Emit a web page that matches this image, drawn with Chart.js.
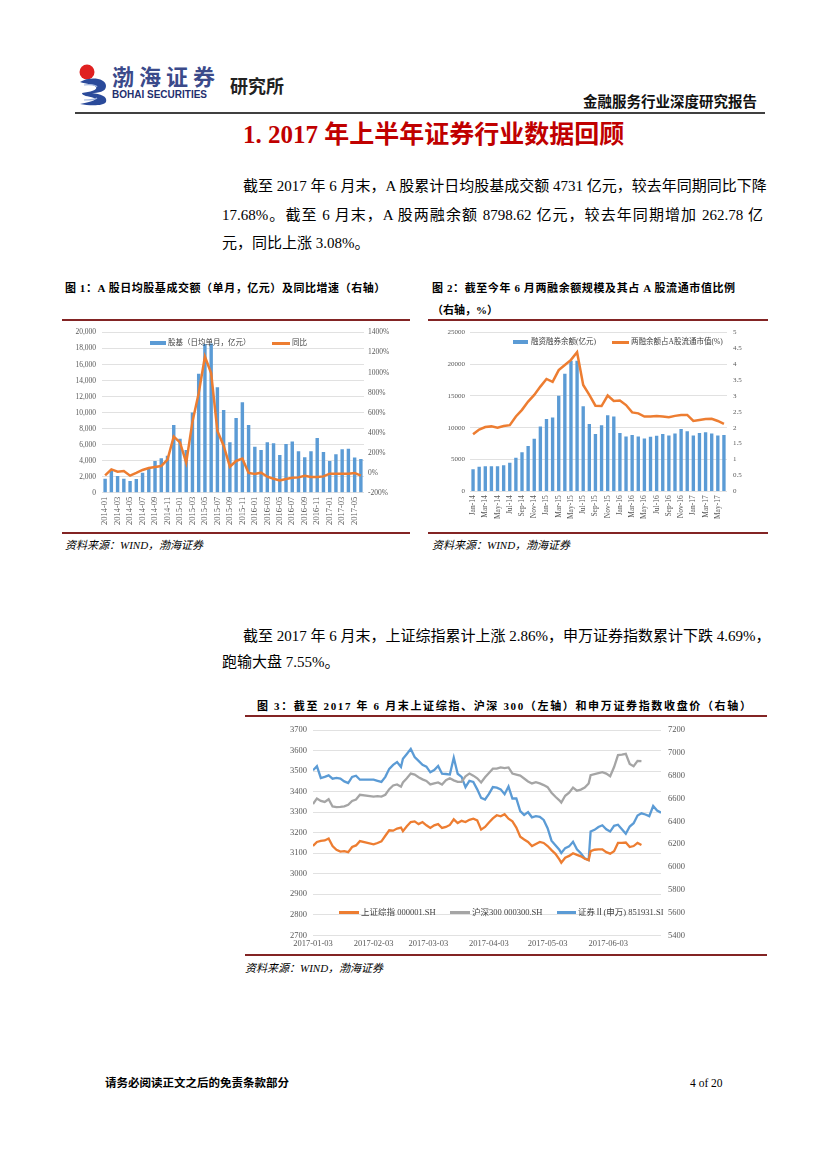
<!DOCTYPE html>
<html lang="zh-CN">
<head>
<meta charset="utf-8">
<title>金融服务行业深度研究报告</title>
<script src="https://cdn.jsdelivr.net/npm/chart.js@4.4.0/dist/chart.umd.min.js"></script>
<style>
  html, body { margin: 0; padding: 0; background: #fff; }
  body { width: 827px; height: 1169px; position: relative; overflow: hidden;
         font-family: "Liberation Serif", "Noto Sans CJK SC", serif; color: #000; }
  .abs { position: absolute; white-space: nowrap; }
  .just { text-align: justify; text-align-last: justify; }
  .para { font-size: 15px; line-height: 20px; }
  .cap { font-size: 11px; font-weight: bold; line-height: 14px; }
  .src { font-size: 11px; font-style: italic; line-height: 14px; }
  .rule { position: absolute; background: #832424; }
  canvas { position: absolute; }
  .lg { position: absolute; font-size: 7.5px; line-height: 10px; color: #404040; white-space: nowrap; }
  .lg span.t { position: absolute; top: 0; }
  .lg span.box { position: absolute; top: 3px; height: 4px; background: #5B9BD5; }
  .lg span.ln { position: absolute; top: 4px; height: 2.5px; }
</style>
</head>
<body>

<!-- header -->
<svg class="abs" style="left:76px;top:62px" width="36" height="44" viewBox="0 0 36 44">
  <circle cx="11" cy="10" r="7.5" fill="#E02020"/>
  <path d="M4 20 C14 14 30 16 30 24 C30 30 22 31 16 31 C24 32 32 34 30 40 C28 44 14 44 4 42 C14 40 22 38 18 36 C12 34 6 34 6 31 C14 30 22 28 20 25 C18 22 10 22 4 20 Z" fill="#2A4A9A"/>
  <path d="M8 23 C14 22 20 23 21 25" stroke="#9FB3DD" stroke-width="1.2" fill="none"/>
  <path d="M8 38 C14 38 20 37 21 36" stroke="#9FB3DD" stroke-width="1.2" fill="none"/>
</svg>
<div class="abs" style="left:112px;top:61px;font-size:22px;line-height:28px;font-weight:bold;color:#3B4A8A;letter-spacing:5px;font-family:'Noto Sans CJK SC';">渤海证券</div>
<div class="abs" style="left:112px;top:89px;font-size:10px;line-height:12px;font-weight:bold;color:#1F2F6F;font-family:'Liberation Sans';">BOHAI SECURITIES</div>
<div class="abs" style="left:230px;top:74px;font-size:18px;line-height:22px;font-weight:bold;color:#222;font-family:'Noto Sans CJK SC';">研究所</div>
<div class="abs" style="left:583px;top:92px;font-size:14.5px;line-height:18px;font-weight:bold;color:#111;font-family:'Noto Sans CJK SC';">金融服务行业深度研究报告</div>
<div class="abs" style="left:75px;top:112px;width:690px;height:2px;background:#404040;"></div>

<!-- section title -->
<div class="abs" style="left:243px;top:120px;font-size:25px;line-height:30px;font-weight:bold;color:#C00000;">1. 2017 年上半年证券行业数据回顾</div>

<div class="abs para just" style="left:243px;top:176px;width:520px;">截至 2017 年 6 月末，A 股累计日均股基成交额 4731 亿元，较去年同期同比下降</div>
<div class="abs para just" style="left:222px;top:205px;width:541px;">17.68%。截至 6 月末，A 股两融余额 8798.62 亿元，较去年同期增加 262.78 亿</div>
<div class="abs para" style="left:222px;top:233px;">元，同比上涨 3.08%。</div>

<!-- figure 1 & 2 captions -->
<div class="abs cap" style="left:65px;top:281px;letter-spacing:0.55px;">图 1：A 股日均股基成交额（单月，亿元）及同比增速（右轴）</div>
<div class="abs cap" style="left:432px;top:281px;letter-spacing:0.6px;">图 2：截至今年 6 月两融余额规模及其占 A 股流通市值比例</div>
<div class="abs cap" style="left:432px;top:303px;">（右轴，%）</div>
<div class="rule" style="left:62px;top:319px;width:348px;height:2px;"></div>
<div class="rule" style="left:428px;top:319px;width:340px;height:2px;"></div>

<canvas id="c1" width="348" height="212" style="left:62px;top:322px;width:348px;height:212px;"></canvas>
<canvas id="c2" width="340" height="212" style="left:428px;top:322px;width:340px;height:212px;"></canvas>

<div class="lg" style="left:0;top:338px;">
  <span class="box" style="left:150px;width:16px;"></span>
  <span class="t" style="left:168px;">股基（日均单月，亿元）</span>
  <span class="ln" style="left:272px;width:18px;background:#ED7D31;"></span>
  <span class="t" style="left:292px;">同比</span>
</div>
<div class="lg" style="left:0;top:337px;">
  <span class="box" style="left:513px;width:15px;"></span>
  <span class="t" style="left:531px;">融资融券余额(亿元)</span>
  <span class="ln" style="left:612px;width:17px;background:#ED7D31;"></span>
  <span class="t" style="left:631px;">两融余额占A股流通市值(%)</span>
</div>

<div class="rule" style="left:62px;top:532px;width:348px;height:1.5px;"></div>
<div class="rule" style="left:428px;top:532px;width:340px;height:1.5px;"></div>
<div class="abs src" style="left:65px;top:538px;">资料来源：WIND，渤海证券</div>
<div class="abs src" style="left:432px;top:538px;">资料来源：WIND，渤海证券</div>

<!-- second paragraph -->
<div class="abs para just" style="left:243px;top:626px;width:520px;">截至 2017 年 6 月末，上证综指累计上涨 2.86%，申万证券指数累计下跌 4.69%，</div>
<div class="abs para" style="left:222px;top:652px;">跑输大盘 7.55%。</div>

<!-- figure 3 -->
<div class="abs cap" style="left:257px;top:699px;letter-spacing:1.65px;">图 3：截至 2017 年 6 月末上证综指、沪深 300（左轴）和申万证券指数收盘价（右轴）</div>
<div class="rule" style="left:245px;top:715px;width:522px;height:2px;"></div>
<canvas id="c3" width="522" height="236" style="left:245px;top:718px;width:522px;height:236px;"></canvas>
<div class="lg" style="left:0;top:907px;font-size:8.5px;line-height:11px;">
  <span class="ln" style="left:339px;width:20px;background:#ED7D31;"></span>
  <span class="t" style="left:361px;">上证综指 000001.SH</span>
  <span class="ln" style="left:450px;width:20px;background:#A5A5A5;"></span>
  <span class="t" style="left:472px;">沪深300 000300.SH</span>
  <span class="ln" style="left:557px;width:19px;background:#5B9BD5;"></span>
  <span class="t" style="left:578px;">证券Ⅱ(申万) 851931.SI</span>
</div>
<div class="rule" style="left:245px;top:954px;width:522px;height:1.5px;"></div>
<div class="abs src" style="left:245px;top:961px;">资料来源：WIND，渤海证券</div>

<!-- footer -->
<div class="abs" style="left:105px;top:1076px;font-size:11.5px;line-height:14px;font-weight:bold;">请务必阅读正文之后的免责条款部分</div>
<div class="abs" style="left:690px;top:1076px;font-size:11.5px;line-height:14px;">4 of 20</div>

<script>
// ---- 图1：股基日均成交额（亿元）与同比（%）
const months1 = [
  '2014-01','2014-02','2014-03','2014-04','2014-05','2014-06','2014-07','2014-08','2014-09','2014-10','2014-11','2014-12',
  '2015-01','2015-02','2015-03','2015-04','2015-05','2015-06','2015-07','2015-08','2015-09','2015-10','2015-11','2015-12',
  '2016-01','2016-02','2016-03','2016-04','2016-05','2016-06','2016-07','2016-08','2016-09','2016-10','2016-11','2016-12',
  '2017-01','2017-02','2017-03','2017-04','2017-05','2017-06'
];
const turnover = [
  1750, 2750, 2080, 1750, 1460, 1710, 2500, 3040, 3960, 4290, 4600, 8460,
  6750, 5340, 10000, 14840, 18550, 18640, 13170, 10340, 6300, 9340, 11300, 8460,
  5750, 5340, 6300, 6170, 4710, 6090, 6380, 5170, 4420, 5170, 6840, 5090,
  3960, 4800, 5420, 5500, 4380, 4210
];
const yoyGrowth = [
  -27, 33, 10, 17, -30, -3, 27, 47, 57, 67, 130, 360,
  303, 100, 510, 793, 1160, 993, 417, 270, 60, 117, 140, -3,
  -13, 0, -40, -60, -77, -63, -50, -47, -30, -43, -43, -37,
  -10, -10, -10, -10, -3, -30
];

// ---- 图2：两融余额（亿元）及占A股流通市值比例（%）
const months2 = [
  'Jan-14','Feb-14','Mar-14','Apr-14','May-14','Jun-14','Jul-14','Aug-14','Sep-14','Oct-14','Nov-14','Dec-14',
  'Jan-15','Feb-15','Mar-15','Apr-15','May-15','Jun-15','Jul-15','Aug-15','Sep-15','Oct-15','Nov-15','Dec-15',
  'Jan-16','Feb-16','Mar-16','Apr-16','May-16','Jun-16','Jul-16','Aug-16','Sep-16','Oct-16','Nov-16','Dec-16',
  'Jan-17','Feb-17','Mar-17','Apr-17','May-17','Jun-17'
];
const marginBalance = [
  3470, 3840, 3950, 3950, 3950, 4100, 4470, 5260, 6150, 7100, 8260, 10200,
  11370, 11580, 15000, 18470, 20530, 20530, 13370, 10580, 9000, 10370, 11950, 11740,
  9150, 8630, 8840, 8630, 8310, 8580, 8730, 9000, 8780, 9100, 9780, 9420,
  8780, 9150, 9260, 9100, 8780, 8840
];
const marginRatio = [
  1.79, 1.94, 2.02, 2.04, 2.00, 2.05, 2.08, 2.35, 2.56, 2.82, 3.03, 3.29,
  3.53, 3.44, 3.81, 3.97, 4.13, 4.37, 3.34, 3.03, 2.69, 2.68, 3.01, 2.84,
  2.85, 2.71, 2.48, 2.45, 2.35, 2.35, 2.37, 2.35, 2.33, 2.37, 2.40, 2.40,
  2.21, 2.24, 2.27, 2.28, 2.21, 2.12
];

// ---- 图3：上证综指、沪深300（左轴）和申万证券指数（右轴）
const dates3 = [
  '2017-01-03','2017-01-05','2017-01-07','2017-01-09','2017-01-11','2017-01-13','2017-01-15','2017-01-17','2017-01-19','2017-01-21','2017-01-23','2017-01-25','2017-01-27',
  '2017-02-03','2017-02-05','2017-02-07','2017-02-09','2017-02-11','2017-02-13','2017-02-15','2017-02-17','2017-02-18','2017-02-20','2017-02-22','2017-02-24','2017-02-26','2017-02-28',
  '2017-03-02','2017-03-04','2017-03-06','2017-03-08','2017-03-10','2017-03-12','2017-03-14','2017-03-16','2017-03-18','2017-03-20','2017-03-22','2017-03-24','2017-03-26','2017-03-28','2017-03-30',
  '2017-04-01','2017-04-03','2017-04-05','2017-04-07','2017-04-09','2017-04-11','2017-04-13','2017-04-15','2017-04-17','2017-04-19','2017-04-21','2017-04-23','2017-04-25','2017-04-27','2017-04-29',
  '2017-05-01','2017-05-03','2017-05-05','2017-05-07','2017-05-09','2017-05-10','2017-05-12','2017-05-14','2017-05-16','2017-05-18','2017-05-20','2017-05-22','2017-05-24',
  '2017-05-25','2017-05-27','2017-05-29','2017-05-31','2017-06-02','2017-06-04','2017-06-06','2017-06-08','2017-06-10','2017-06-12','2017-06-14','2017-06-16','2017-06-18','2017-06-20',
  '2017-06-22','2017-06-24','2017-06-26','2017-06-28','2017-06-30'
];
const shComposite = [
  3135, 3155, 3160, 3162, 3172, 3135, 3117, 3108, 3110, 3105, 3130, 3138, 3159,
  3143, 3150, 3158, 3185, 3212, 3210, 3220, 3225, 3207, 3231, 3252, 3255, 3242, 3252,
  3236, 3223, 3236, 3242, 3223, 3228, 3238, 3265, 3247, 3258, 3252, 3263, 3268, 3260, 3215,
  3228, 3250, 3270, 3285, 3280, 3290, 3268, 3255, 3225, 3180, 3167, 3155, 3135, 3145, 3155,
  3150, 3135, 3115, 3097, 3070, 3054, 3078, 3087, 3100, 3092, 3085, 3073, 3066,
  3110, 3117, 3119, 3119, 3105, 3098, 3110, 3150, 3150, 3152, 3130, 3135, 3150, 3140,
  null, null, null, null, null
];
const hs300 = [
  3340, 3367, 3355, 3350, 3363, 3328, 3325, 3326, 3328, 3336, 3355, 3362, 3385,
  3376, 3378, 3376, 3385, 3412, 3430, 3435, 3424, 3445, 3465, 3488, 3483, 3470, 3460,
  3452, 3435, 3440, 3445, 3435, 3456, 3465, 3455, 3448, 3448, 3475, 3488, 3478, 3465, 3445,
  3470, 3491, 3512, 3512, 3518, 3515, 3518, 3488, 3483, 3478, 3464, 3450, 3440, 3446, 3440,
  3432, 3422, 3395, 3375, 3358, 3347, 3380, 3395, 3420, 3405, 3410, 3420, 3440,
  3480, 3485, 3490, 3495, 3488, 3475, 3520, 3578, 3580, 3584, 3535, 3524, 3550, 3549,
  null, null, null, null, null
];
const swSecurities = [
  6847, 6884, 6780, 6790, 6803, 6774, 6780, 6775, 6750, 6735, 6789, 6800, 6765,
  6765, 6755, 6745, 6790, 6860, 6895, 6919, 6876, 6948, 6991, 7035, 6963, 6930, 6895,
  6880, 6830, 6850, 6885, 6817, 6815, 6810, 6957, 6817, 6790, 6700, 6755, 6745, 6680, 6605,
  6591, 6640, 6700, 6695, 6680, 6638, 6705, 6600, 6600, 6490, 6456, 6480, 6435, 6445, 6440,
  6412, 6340, 6230, 6190, 6150, 6122, 6165, 6180, 6220, 6155, 6120, 6075, 6060,
  6310, 6325, 6350, 6365, 6330, 6310, 6360, 6370, 6330, 6290, 6354, 6383, 6450, 6470,
  6460, 6445, 6534, 6495, 6476
];
const tickDates3 = ['2017-01-03','2017-02-03','2017-03-03','2017-04-03','2017-05-03','2017-06-03'];

Chart.defaults.font.family = '"Liberation Serif", "Noto Sans CJK SC", serif';
Chart.defaults.color = '#595959';

const BLUE = '#5B9BD5', ORANGE = '#ED7D31', GREY = '#A5A5A5', GRID = '#D9D9D9';

function dayOf(s) {
  const p = s.split('-').map(Number);
  return (Date.UTC(p[0], p[1] - 1, p[2]) - Date.UTC(2017, 0, 3)) / 86400000;
}

// chart 1
new Chart(document.getElementById('c1'), {
  data: {
    labels: months1,
    datasets: [
      { type: 'line', label: '同比', data: yoyGrowth, yAxisID: 'yr',
        borderColor: ORANGE, borderWidth: 2.5, pointRadius: 0, tension: 0, order: 0 },
      { type: 'bar', label: '股基（日均单月，亿元）', data: turnover, yAxisID: 'yl',
        backgroundColor: BLUE, barPercentage: 0.55, categoryPercentage: 1, order: 1 }
    ]
  },
  options: {
    responsive: false, animation: false,
    layout: { padding: { top: 10 } },
    plugins: { legend: { display: false }, tooltip: { enabled: false } },
    scales: {
      x: {
        grid: { display: false, drawTicks: false }, border: { display: false },
        ticks: { autoSkip: false, minRotation: 90, maxRotation: 90, padding: 4, font: { size: 8.5 },
                 callback: (v, i) => (i % 2 === 0 ? months1[i] : '') },
        afterFit: s => { s.height = 41.3; }
      },
      yl: {
        position: 'left', min: 0, max: 20000,
        ticks: { stepSize: 2000, padding: 6, font: { size: 7.5 }, callback: v => v.toLocaleString('en-US') },
        grid: { color: GRID, lineWidth: 0.8, drawTicks: false }, border: { display: false },
        afterFit: s => { s.width = 40; }
      },
      yr: {
        position: 'right', min: -200, max: 1400,
        ticks: { stepSize: 200, padding: 4, font: { size: 7.5 }, callback: v => v + '%' },
        grid: { display: false, drawTicks: false }, border: { display: false },
        afterFit: s => { s.width = 46; }
      }
    }
  }
});

// chart 2
new Chart(document.getElementById('c2'), {
  data: {
    labels: months2,
    datasets: [
      { type: 'line', label: '两融余额占A股流通市值(%)', data: marginRatio, yAxisID: 'yr',
        borderColor: ORANGE, borderWidth: 2.5, pointRadius: 0, tension: 0, order: 0 },
      { type: 'bar', label: '融资融券余额(亿元)', data: marginBalance, yAxisID: 'yl',
        backgroundColor: BLUE, barPercentage: 0.55, categoryPercentage: 1, order: 1 }
    ]
  },
  options: {
    responsive: false, animation: false,
    layout: { padding: { top: 10 } },
    plugins: { legend: { display: false }, tooltip: { enabled: false } },
    scales: {
      x: {
        grid: { display: false, drawTicks: false }, border: { display: false },
        ticks: { autoSkip: false, minRotation: 90, maxRotation: 90, padding: 4, font: { size: 7.5 },
                 callback: (v, i) => (i % 2 === 0 ? months2[i] : '') },
        afterFit: s => { s.height = 42.7; }
      },
      yl: {
        position: 'left', min: 0, max: 25000,
        ticks: { stepSize: 5000, padding: 5, font: { size: 7 }, callback: v => String(v) },
        grid: { color: GRID, lineWidth: 0.8, drawTicks: false }, border: { display: false },
        afterFit: s => { s.width = 42; }
      },
      yr: {
        position: 'right', min: 0, max: 5,
        ticks: { stepSize: 0.5, padding: 6, font: { size: 7 }, callback: v => String(v) },
        grid: { display: false, drawTicks: false }, border: { display: false },
        afterFit: s => { s.width = 41; }
      }
    }
  }
});

// chart 3
const tickDays3 = tickDates3.map(dayOf);
const xs3 = dates3.map(dayOf);
const toPts = arr => xs3.map((x, i) => ({ x: x, y: arr[i] }));

new Chart(document.getElementById('c3'), {
  type: 'line',
  data: {
    datasets: [
      { label: '上证综指 000001.SH', data: toPts(shComposite), yAxisID: 'yl',
        borderColor: ORANGE, borderWidth: 2.3, pointRadius: 0, tension: 0 },
      { label: '沪深300 000300.SH', data: toPts(hs300), yAxisID: 'yl',
        borderColor: GREY, borderWidth: 2.3, pointRadius: 0, tension: 0 },
      { label: '证券Ⅱ(申万) 851931.SI', data: toPts(swSecurities), yAxisID: 'yr',
        borderColor: BLUE, borderWidth: 2.3, pointRadius: 0, tension: 0 }
    ]
  },
  options: {
    responsive: false, animation: false,
    layout: { padding: { top: 10 } },
    plugins: { legend: { display: false }, tooltip: { enabled: false } },
    scales: {
      x: {
        type: 'linear', min: 0, max: 178,
        grid: { display: false, drawTicks: false }, border: { display: false },
        afterBuildTicks: s => { s.ticks = tickDays3.map(v => ({ value: v })); },
        ticks: { maxRotation: 0, autoSkip: false, padding: 3, font: { size: 8.5 },
                 callback: v => tickDates3[tickDays3.indexOf(v)] || '' },
        afterFit: s => { s.height = 18.7; }
      },
      yl: {
        position: 'left', min: 2700, max: 3700,
        ticks: { stepSize: 100, padding: 6, font: { size: 8.5 }, callback: v => String(v) },
        grid: { color: GRID, lineWidth: 0.8, drawTicks: false }, border: { display: false },
        afterFit: s => { s.width = 68; }
      },
      yr: {
        position: 'right', min: 5400, max: 7200,
        ticks: { stepSize: 200, padding: 7, font: { size: 8.5 }, callback: v => String(v) },
        grid: { display: false, drawTicks: false }, border: { display: false },
        afterFit: s => { s.width = 106; }
      }
    }
  }
});
</script>
</body>
</html>
